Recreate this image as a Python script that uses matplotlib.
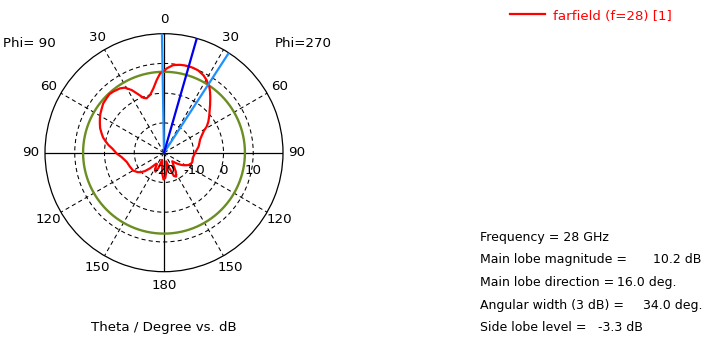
import numpy as np
import matplotlib
matplotlib.use("Agg")
import matplotlib.pyplot as plt
from matplotlib.transforms import offset_copy

# ---------------- data ----------------
# plot angle (deg, clockwise from top; right half = Phi 270, left half = Phi 90)
theta_deg = [0, 2, 6, 10, 13, 16, 19, 22.6, 27, 30.4, 33, 34.5, 37, 40, 44, 47,
             50.3, 55, 58.6, 61, 65, 70, 75, 80, 88, 95, 101, 108, 111, 116.9,
             121, 125, 130, 136, 142, 148, 153, 157, 161, 166, 172, 177, 181,
             185, 190, 195, 200, 204, 208, 212, 215, 219, 222, 226, 230, 233.5,
             240, 248, 256, 264, 269, 274.5, 278, 281, 284, 287, 291, 295, 298,
             301, 305, 309, 313.5, 317, 320.3, 325.6, 329, 332.7, 336.3, 339.4,
             342.3, 346.4, 350.6, 354.2, 357.1, 359, 360]
gain_db = [7.5, 8.4, 9.6, 10.0, 10.15, 10.2, 10.15, 9.95, 9.2, 8.3, 7.3, 6.9,
           5.7, 4.2, 2.3, 1.0, -0.2, -1.8, -3.2, -4.6, -5.9, -7.1, -7.7, -8.2,
           -9.3, -9.9, -10.2, -10.0, -10.1, -10.8, -11.8, -12.8, -14.3, -16.0,
           -15.0, -12.5, -11.0, -11.5, -14.5, -17.0, -14.0, -11.5, -11.0, -13.0,
           -16.5, -17.5, -14.5, -13.0, -13.5, -15.5, -15.5, -14.3, -12.9, -11.1,
           -9.8, -9.0, -8.0, -7.6, -7.1, -5.7, -4.1, -2.6, -1.1, 0.0, 1.1, 1.9,
           3.0, 3.8, 4.4, 5.0, 5.6, 6.3, 6.6, 6.9, 6.7, 6.2, 5.5, 3.7, 1.4, -0.3,
           -0.8, -0.05, 1.9, 4.5, 6.6, 7.2, 7.5]

angle_tick_pos = [0, 30, 60, 90, 120, 150, 180, 210, 240, 270, 300, 330]
angle_tick_labels = ["0", "30", "60", "90", "120", "150", "180",
                     "150", "120", "90", "60", "30"]
ring_values = [-20, -10, 0, 10]
ring_labels = ["-20", "-10", "0", "10"]
r_min, r_max = -20, 20

main_lobe_dir = 16.0
beam_edges = [-1.0, 33.0]
level_3db = 7.2

legend_label = "farfield (f=28) [1]"
info_labels = ["Frequency = 28 GHz", "Main lobe magnitude =",
               "Main lobe direction =", "Angular width (3 dB) =",
               "Side lobe level ="]
info_values = ["", "10.2 dB", "16.0 deg.", "34.0 deg.", "-3.3 dB"]
info_value_x = [0, 653, 617, 643, 598]

# ---------------- figure ----------------
W, H = 709, 338
fig = plt.figure(figsize=(W / 100, H / 100), dpi=100)
fig.patch.set_facecolor("white")
plt.rcParams["font.family"] = ["DejaVu Sans"]
FS = 9.6
FS_INFO = 9.0

cx, cy, R = 164, 152.7, 119
ax = fig.add_axes([(cx - R) / W, (H - cy - R) / H, 2 * R / W, 2 * R / H],
                  polar=True)
ax.set_theta_zero_location("N")
ax.set_theta_direction(-1)
ax.set_ylim(r_min, r_max)
ax.set_thetagrids([30, 60, 120, 150, 210, 240, 300, 330], labels=[])
ax.set_rgrids([-10, 0, 10], labels=[])
ax.grid(True, color="black", lw=0.75, linestyle=(0, (4, 3)))
ax.spines["polar"].set_linewidth(0.9)
ax.spines["polar"].set_color("black")
ax.tick_params(length=0)

# solid axes lines
for a in [0, 90, 180, 270]:
    ax.plot(np.deg2rad([a, a]), [r_min, r_max], color="black", lw=0.9,
            zorder=2)

# 3 dB circle
tc = np.linspace(0, 2 * np.pi, 361)
ax.plot(tc, np.full_like(tc, level_3db), color="#6b8e23", lw=1.7, zorder=3)

# pattern
ax.plot(np.deg2rad(theta_deg), gain_db, color="#ff0000", lw=1.6, zorder=4)

# beam lines
for b in beam_edges:
    ax.plot(np.deg2rad([b, b]), [r_min, r_max], color="#1e90ff", lw=1.6,
            zorder=5)
ax.plot(np.deg2rad([main_lobe_dir, main_lobe_dir]), [r_min, r_max],
        color="#0000ee", lw=1.6, zorder=6)

# angle labels
r_lab = r_min + 133 / R * (r_max - r_min)
for p, lab in zip(angle_tick_pos, angle_tick_labels):
    ax.text(np.deg2rad(p), r_lab, lab, ha="center", va="center",
            fontsize=FS, clip_on=False)

# ring labels
tr = offset_copy(ax.transData, fig=fig, x=0, y=-18, units="dots")
for v, lab in zip(ring_values, ring_labels):
    ax.text(np.deg2rad(90), v, lab, transform=tr, ha="center", va="center",
            fontsize=FS, clip_on=False, zorder=7)


def px(x, y):
    return x / W, 1 - y / H


fig.text(*px(3, 46.7), "Phi= 90", fontsize=FS, va="baseline", ha="left")
fig.text(*px(275, 46.7), "Phi=270", fontsize=FS, va="baseline", ha="left")
fig.text(*px(164, 331), "Theta / Degree vs. dB", fontsize=FS,
         va="baseline", ha="center")

# legend
fig.add_artist(plt.Line2D([510 / W, 545 / W], [1 - 13.5 / H, 1 - 13.5 / H],
                          color="#ff0000", lw=1.6))
fig.text(*px(553, 20), legend_label, fontsize=FS, color="#ff0000",
         va="baseline", ha="left")

# info block
for i, (lab, val, vx) in enumerate(zip(info_labels, info_values, info_value_x)):
    y = 240.7 + i * 22.6
    fig.text(*px(480, y), lab, fontsize=FS_INFO, va="baseline", ha="left")
    if val:
        fig.text(*px(vx, y), val, fontsize=FS_INFO, va="baseline", ha="left")

fig.savefig("out.png", dpi=100, facecolor="white")
